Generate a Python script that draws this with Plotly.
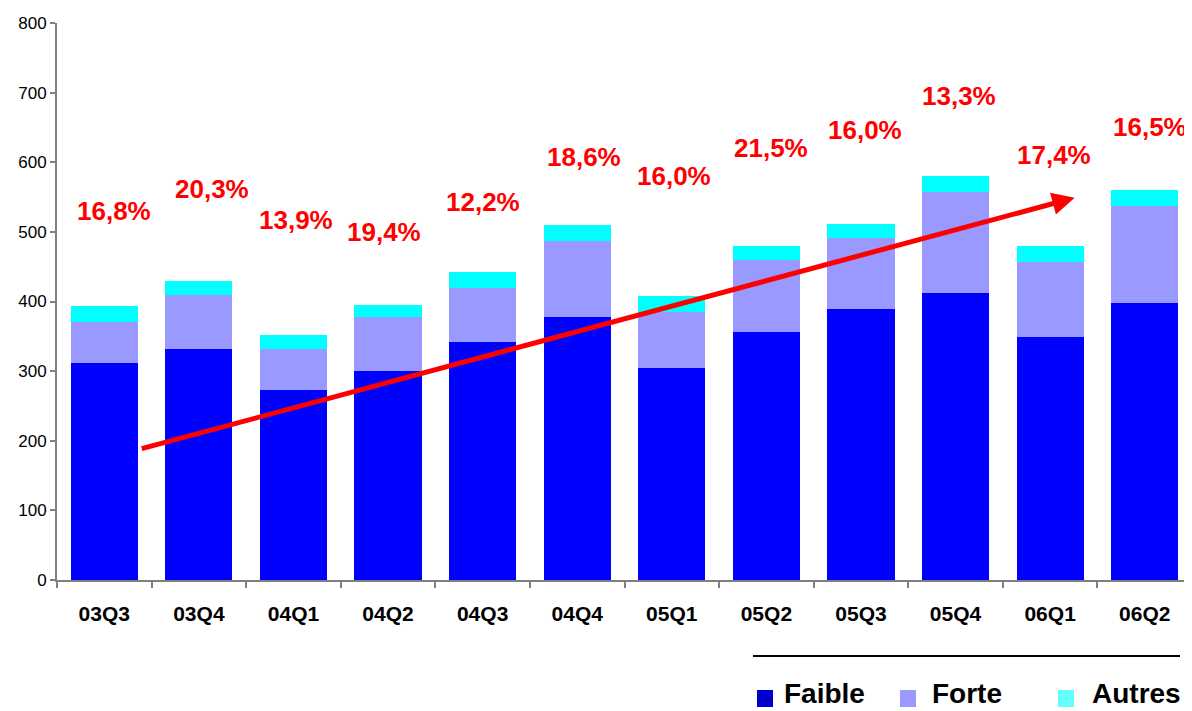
import plotly.graph_objects as go

categories = ["03Q3", "03Q4", "04Q1", "04Q2", "04Q3", "04Q4", "05Q1", "05Q2", "05Q3", "05Q4", "06Q1", "06Q2"]
faible = [312, 332, 273, 300, 342, 378, 305, 356, 389, 412, 349, 398]
forte = [59, 77, 59, 78, 78, 109, 80, 104, 102, 145, 108, 139]
autres = [23, 21, 20, 17, 23, 23, 23, 20, 20, 23, 23, 23]
pct_labels = ["16,8%", "20,3%", "13,9%", "19,4%", "12,2%", "18,6%", "16,0%", "21,5%", "16,0%", "13,3%", "17,4%", "16,5%"]
pct_y = [530, 562, 517, 500, 543, 608, 580, 621, 647, 695, 611, 651]
trend_start = (0.38, 188)
trend_end = (10.26, 549)

# horizontal nudges (pixels) of the percentage labels, as placed in the reference
pct_xshift = [10, 13, 3, -4, 0, 7, 2, 5, 4, 3, 4, 5]

# page has an 8px body margin; figure sized so plot area lands where the reference has it
OFF = 8
W, H = 1192 - OFF, 711 - OFF
PX0, PX1, PY0, PY1 = 57, 1192, 23, 580  # plot area in screen pixels
L, R, T, B = PX0 - OFF, 0, PY0 - OFF, 711 - PY1

def px(x):
    return (x - PX0) / (PX1 - PX0)

def py(y):
    return (PY1 - y) / (PY1 - PY0)

FONT = "Liberation Sans, Arial, sans-serif"

fig = go.Figure()
fig.add_trace(go.Bar(x=categories, y=faible, name="Faible", marker_color="#0000FF", marker_line_width=0, width=0.71))
fig.add_trace(go.Bar(x=categories, y=forte, name="Forte", marker_color="#9999FF", marker_line_width=0, width=0.71))
fig.add_trace(go.Bar(x=categories, y=autres, name="Autres", marker_color="#00FFFF", marker_line_width=0, width=0.71))

annotations = []
for c, t, yv, xs in zip(categories, pct_labels, pct_y, pct_xshift):
    annotations.append(dict(x=c, y=yv, text=t, showarrow=False, xref="x", yref="y", xshift=xs,
                            font=dict(family=FONT, size=26, color="#FF0000", weight="bold")))

annotations.append(dict(x=trend_end[0], y=trend_end[1], ax=trend_start[0], ay=trend_start[1],
                        xref="x", yref="y", axref="x", ayref="y", text="", showarrow=True,
                        arrowhead=2, arrowsize=0.9, arrowwidth=5, arrowcolor="#FF0000"))

legend_items = [("Faible", "#0000CC", 757, 782), ("Forte", "#9999FF", 900, 930), ("Autres", "#66FFFF", 1058, 1090)]
shapes = [dict(type="line", xref="paper", yref="paper", x0=px(753), x1=px(1180), y0=py(656), y1=py(656),
               line=dict(color="black", width=2))]
for name, col, sx, tx in legend_items:
    shapes.append(dict(type="rect", xref="paper", yref="paper", x0=px(sx), x1=px(sx + 16),
                       y0=py(707), y1=py(690), fillcolor=col, line=dict(width=0)))
    annotations.append(dict(x=px(tx), y=py(693), xref="paper", yref="paper", text=name, showarrow=False,
                            xanchor="left", yanchor="middle",
                            font=dict(family=FONT, size=28, color="black", weight="bold")))

fig.update_layout(
    width=W, height=H,
    margin=dict(l=L, r=R, t=T, b=B),
    barmode="stack",
    bargap=0.29,
    showlegend=False,
    plot_bgcolor="white", paper_bgcolor="white",
    annotations=annotations, shapes=shapes,
    font=dict(family=FONT, color="black"),
)
fig.update_yaxes(range=[0, 800], dtick=100, showgrid=False, zeroline=False,
                 showline=True, linecolor="#808080", linewidth=2,
                 ticks="outside", ticklen=5, tickcolor="#808080", tickwidth=1.5,
                 tickfont=dict(size=17, family=FONT, color="black"))
fig.update_xaxes(showgrid=False, showline=True, linecolor="#808080", linewidth=2,
                 ticks="outside", ticklen=6, tickcolor="#808080", tickwidth=1.5,
                 tickson="boundaries", ticklabelstandoff=14,
                 tickfont=dict(size=21, family=FONT, color="black", weight="bold"),
                 range=[-0.5, 11.5])

fig.write_html("out.html")
